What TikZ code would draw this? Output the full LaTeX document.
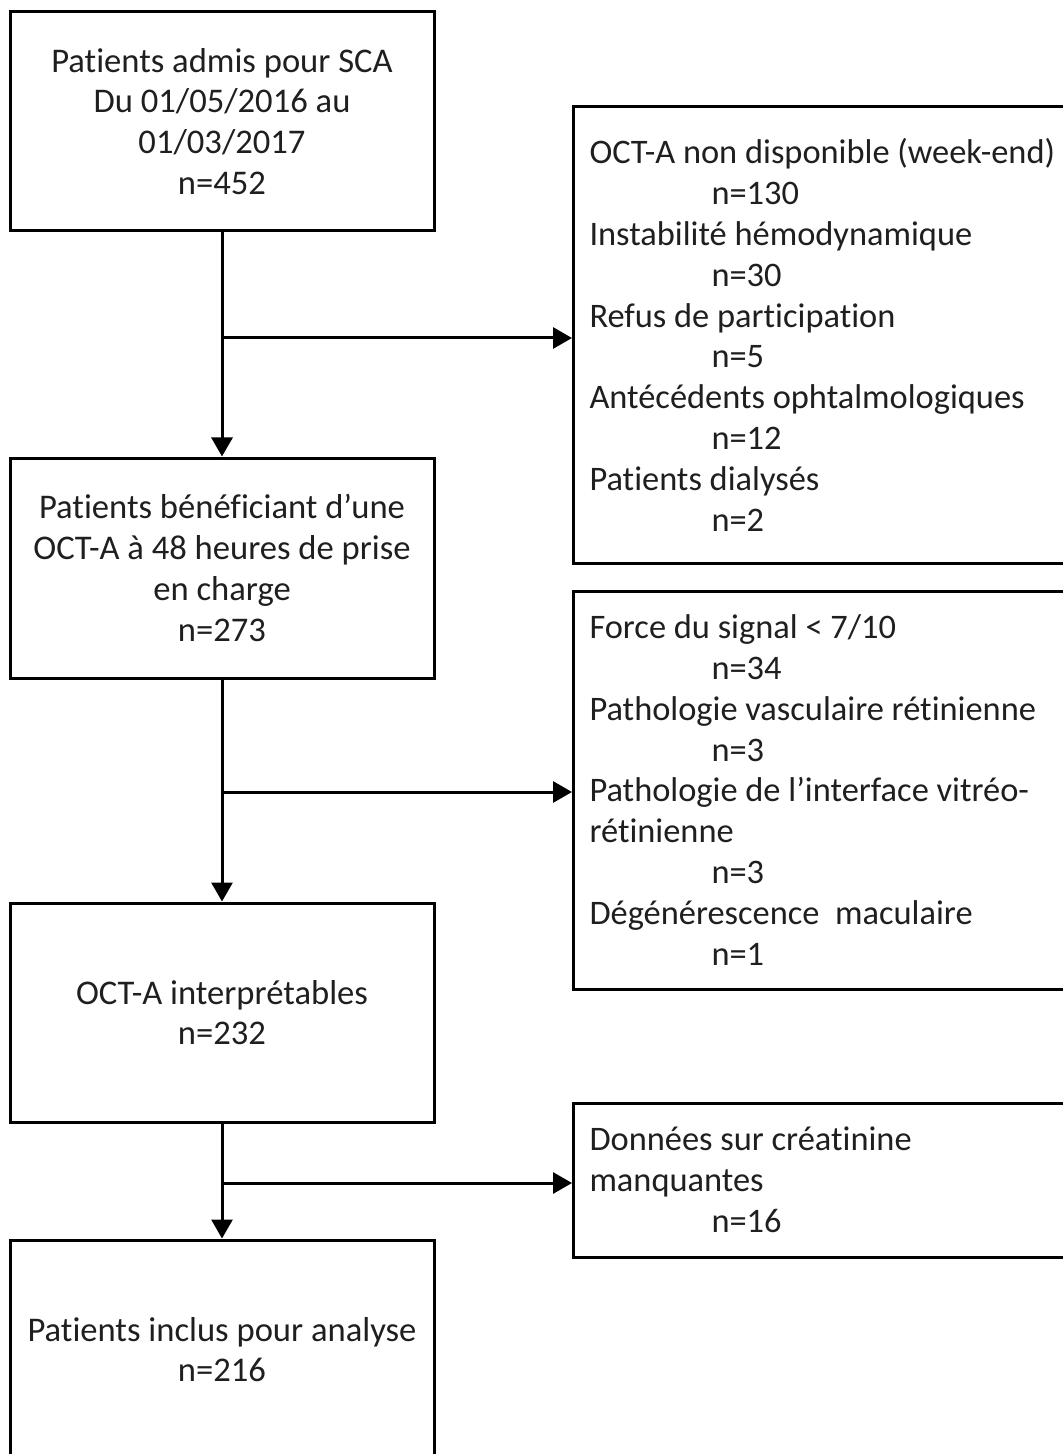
\documentclass[tikz,border=0pt]{standalone}
\usepackage{fontspec}
\setmainfont{Carlito}[Ligatures=NoCommon]
\usetikzlibrary{arrows.meta}
\newlength{\nind}
\setlength{\nind}{61pt}
\newcommand{\nn}[1]{\hspace*{\nind}#1}
\begin{document}
\begin{tikzpicture}[x=0.5pt,y=-0.5pt,
  box/.style={draw=black, line width=1.5pt, fill=white, text=black!88,
    font=\fontsize{17.3pt}{20.4pt}\selectfont, minimum width=212pt, align=center, inner sep=0pt},
  sidebox/.style={draw=black, line width=1.5pt, fill=white, text=black!88,
    font=\fontsize{17.2pt}{20.4pt}\selectfont, text width=242pt, align=flush left,
    inner xsep=8pt, inner ysep=0pt, anchor=west},
  arr/.style={line width=1.5pt, -{Triangle[length=9.5pt,width=10.5pt]}}]
\useasboundingbox (0,0) rectangle (1063,1454);
\clip (0,0) rectangle (1063,1454);

\node[box, minimum height=109.5pt] (b1) at (222,121.5)
  {Patients admis pour SCA\\Du 01/05/2016 au\\01/03/2017\\n=452};
\node[box, minimum height=110pt] (b2) at (222,568)
  {Patients bénéficiant d’une\\OCT-A à 48 heures de prise\\en charge\\n=273};
\node[box, minimum height=109.5pt] (b3) at (222,1012.5)
  {OCT-A interprétables\\n=232};
\node[box, minimum height=109.5pt] (b4) at (222,1349.5)
  {Patients inclus pour analyse\\n=216};

\node[sidebox, minimum height=228pt] (ra) at (572,335)
  {OCT-A non disponible (week-end)\\\nn{n=130}\\Instabilité hémodynamique\\\nn{n=30}\\Refus de participation\\\nn{n=5}\\Antécédents ophtalmologiques\\\nn{n=12}\\Patients dialysés\\\nn{n=2}};
\node[sidebox, minimum height=199pt] (rb) at (572,790)
  {Force du signal < 7/10\\\nn{n=34}\\Pathologie vasculaire rétinienne\\\nn{n=3}\\Pathologie de l’interface vitréo-\\rétinienne\\\nn{n=3}\\Dégénérescence\ \ maculaire\\\nn{n=1}};
\node[sidebox, minimum height=77pt] (rc) at (572,1180)
  {Données sur créatinine\\manquantes\\\nn{n=16}};

\coordinate (j1) at (222,338);
\coordinate (j2) at (222,792);
\coordinate (j3) at (222,1183);

\draw[arr] (b1.south) -- (b2.north);
\draw[arr] (b2.south) -- (b3.north);
\draw[arr] (b3.south) -- (b4.north);
\draw[arr] (j1) -- (j1 -| ra.west);
\draw[arr] (j2) -- (j2 -| rb.west);
\draw[arr] (j3) -- (j3 -| rc.west);
\end{tikzpicture}
\end{document}
